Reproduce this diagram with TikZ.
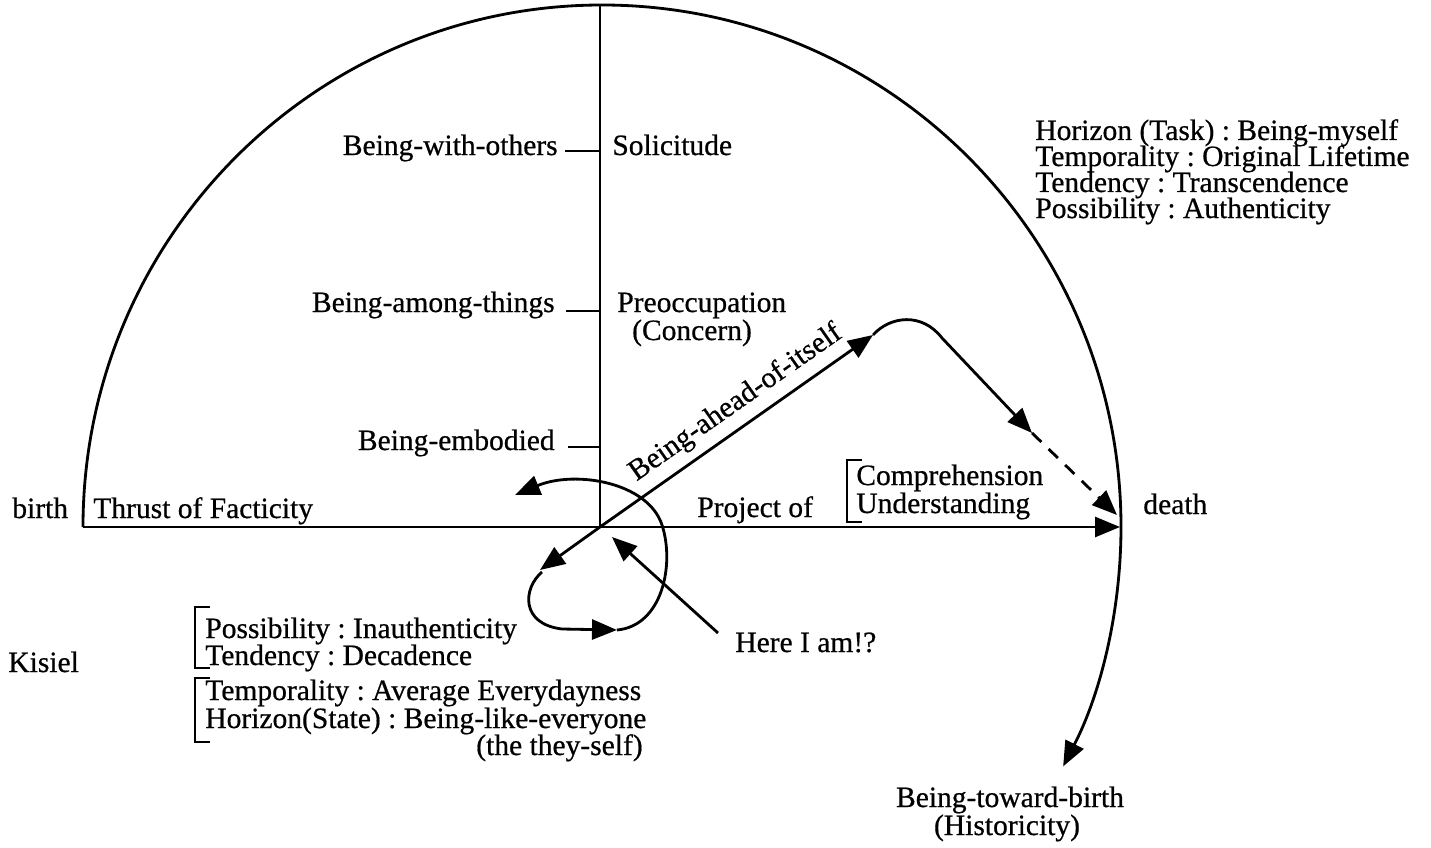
\documentclass[tikz,border=0pt]{standalone}
\usepackage{fontspec}
\setmainfont{Liberation Serif}
\newfontfamily\heavyserif[FakeBold=0.6]{Liberation Serif}
\usetikzlibrary{arrows.meta}
\frenchspacing
\begin{document}
\begin{tikzpicture}[x=0.02cm,y=-0.02cm,
  lbl/.style={inner sep=0pt, font=\heavyserif\fontsize{16.8}{15}\selectfont},
  ln/.style={line width=1.6pt},
  tip/.style={-{Triangle[length=0.5cm,width=0.4cm]}},
  brk/.style={line width=1.6pt}
]
\useasboundingbox (0,0) rectangle (1431,848);
% key points
\coordinate (O) at (600,527);
\coordinate (top) at (600,5);
\coordinate (L) at (83,527);
\coordinate (death) at (1120,527);
\coordinate (t1) at (600,151); \coordinate (t1e) at (565,151);
\coordinate (t2) at (600,311); \coordinate (t2e) at (566,311);
\coordinate (t3) at (600,447); \coordinate (t3e) at (568,447);
\coordinate (ahead) at (873,335);
\coordinate (back) at (540,570);
\coordinate (hump) at (1032,433);
\coordinate (hit) at (1117,515);
\coordinate (loopA) at (542,572);
\coordinate (loopM) at (617,630);
\coordinate (loopE) at (515,495);
\coordinate (hereS) at (718,633);
\coordinate (hereT) at (612,537);

% semicircle with arrow
\draw[ln, tip] (L) arc[start angle=180, end angle=387.3, x radius=519, y radius=522];
% axes
\draw[ln] (top) -- (O);
\draw[ln, tip] (L) -- (death);
% ticks
\draw[ln] (t1e) -- (t1);
\draw[ln] (t2e) -- (t2);
\draw[ln] (t3e) -- (t3);
% being-ahead arrow and back arrow
\draw[ln, tip] (O) -- (ahead);
\draw[ln, tip] (O) -- (back);
\draw[ln, tip] (ahead) .. controls (890,316) and (922,312) .. (942,338) -- (hump);
\draw[ln, tip, dash pattern=on 0.26cm off 0.2cm] (hump) -- (hit);
% loop
\draw[ln, tip] (loopA) .. controls (523,588) and (520,624) .. (562,629) -- (loopM);
\draw[ln, tip] (loopM) .. controls (662,626) and (675,565) .. (662,525) .. controls (648,482) and (575,470) .. (loopE);
% here I am
\draw[ln, tip] (hereS) -- (hereT);

% labels on vertical axis
\node[lbl, anchor=base east] (bwo) at (558,155) {Being-with-others};
\node[lbl, anchor=base west] (sol) at (612,155) {Solicitude};
\node[lbl, anchor=base east] (bat) at (555,312) {Being-among-things};
\node[lbl, anchor=base west] (pre) at (617,312) {Preoccupation};
\node[lbl, anchor=base] (con) at (692,340) {(Concern)};
\node[lbl, anchor=base east] (bem) at (555,450) {Being-embodied};
\node[lbl, anchor=base, rotate=35] (bai) at (740,409) {Being-ahead-of-itself};

% horizontal axis labels
\node[lbl, anchor=base west] (birth) at (12,518) {birth};
\node[lbl, anchor=base west] (thr) at (93,518) {Thrust of Facticity};
\node[lbl, anchor=base west] (proj) at (697,517) {Project of};
\node[lbl, anchor=base west] (comp) at (856,485) {Comprehension};
\node[lbl, anchor=base west] (und) at (856,513) {Understanding};
\draw[brk] (862,460) -- (847,460) -- (847,522) -- (862,522);
\node[lbl, anchor=base west] (dth) at (1143,514) {death};

% right block
\node[lbl, anchor=base west] (r1) at (1035,140) {Horizon (Task) : Being-myself};
\node[lbl, anchor=base west] (r2) at (1035,166) {Temporality : Original Lifetime};
\node[lbl, anchor=base west] (r3) at (1035,192) {Tendency : Transcendence};
\node[lbl, anchor=base west] (r4) at (1035,218) {Possibility : Authenticity};

% here I am
\node[lbl, anchor=base west] (here) at (735,652) {Here I am!?};

% left blocks
\node[lbl, anchor=base west] (kis) at (8,672) {Kisiel};
\draw[brk] (210,607) -- (195,607) -- (195,668) -- (210,668);
\node[lbl, anchor=base west] (l1) at (205,638) {Possibility : Inauthenticity};
\node[lbl, anchor=base west] (l2) at (205,665) {Tendency : Decadence};
\draw[brk] (210,678) -- (195,678) -- (195,742) -- (210,742);
\node[lbl, anchor=base west] (l3) at (205,700) {Temporality : Average Everydayness};
\node[lbl, anchor=base west] (l4) at (205,728) {Horizon(State) : Being-like-everyone};
\node[lbl, anchor=base east] (l5) at (643,755) {(the they-self)};

% bottom right
\node[lbl, anchor=base] (btb) at (1010,807) {Being-toward-birth};
\node[lbl, anchor=base] (his) at (1007,835) {(Historicity)};
\end{tikzpicture}
\end{document}
